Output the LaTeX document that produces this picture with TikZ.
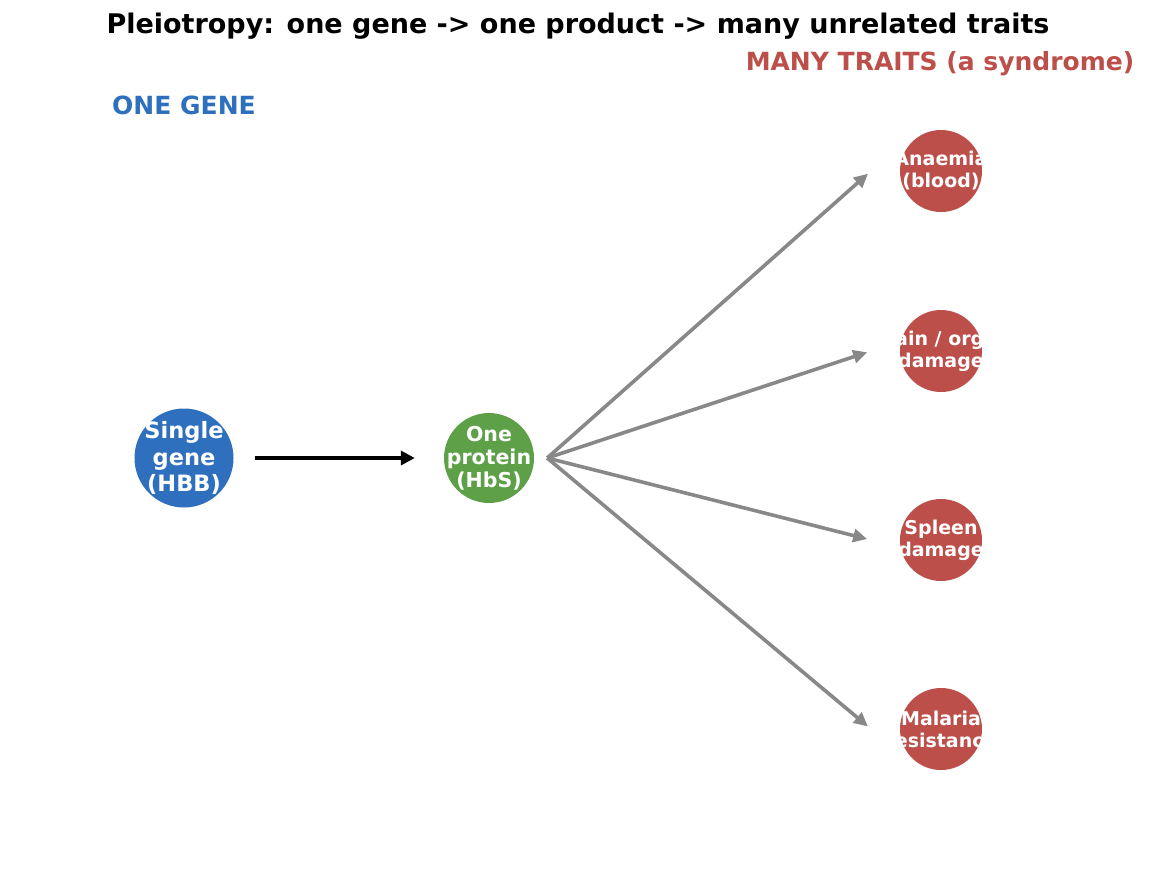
\documentclass[tikz,border=0pt]{standalone}
\usepackage{fontspec}
\setmainfont{DejaVu Sans}
\usepackage{xcolor}
\usepackage{tikz}
\usetikzlibrary{arrows.meta,positioning}
\definecolor{geneblue}{HTML}{2E70BE}
\definecolor{protgreen}{HTML}{5DA047}
\definecolor{traitred}{HTML}{BD4F4A}
\definecolor{fangray}{HTML}{888888}
\tikzset{
    gene/.style={circle, fill=geneblue, minimum size=99pt, inner sep=0pt},
    protein/.style={circle, fill=protgreen, minimum size=90pt, inner sep=0pt},
    trait/.style={circle, fill=traitred, minimum size=82pt, inner sep=0pt},
    genetext/.style={text=white, align=center, inner sep=0pt,
    font=\bfseries\fontsize{22.5}{26.5}\selectfont},
    proteintext/.style={text=white, align=center, inner sep=0pt,
    font=\bfseries\fontsize{20.5}{23}\selectfont},
    traittext/.style={text=white, align=center, inner sep=0pt,
    font=\bfseries\fontsize{19}{22}\selectfont},
    heading/.style={font=\bfseries\fontsize{25}{30}\selectfont},
    mainarrow/.style={line width=4.3pt, -{Triangle[length=14pt, width=14pt]}},
    fanarrow/.style={line width=3.6pt, draw=fangray,
    -{Triangle[length=14pt, width=13pt]}, shorten >=4pt},
}

\begin{document}
\begin{tikzpicture}[x=1pt, y=-1pt]
            \useasboundingbox (0,0) rectangle (1158,884);
            % --- title and column headings ---
            \node[font=\bfseries\fontsize{27}{32}\selectfont] (title) at (578,26)
                {Pleiotropy: one gene -> one product -> many unrelated traits};
            \node[heading, text=geneblue] (genehead) at (184,105) {ONE GENE};
            \node[heading, text=traitred] (traithead) at (940,64) {MANY TRAITS (a syndrome)};
            % --- gene and product ---
            \node[gene, label={[genetext]center:{Single\\gene\\(HBB)}}] (hbb) at (184,458) {};
            \node[protein, label={[proteintext]center:{One\\protein\\(HbS)}}] (hbs) at (489,458) {};
            % --- traits ---
            \node[trait, label={[traittext]center:{Anaemia\\(blood)}}] (t1) at (941,171) {};
            \node[trait, label={[traittext]center:{Brain / organ\\damage}}] (t2) at (941,351) {};
            \node[trait, label={[traittext]center:{Spleen\\damage}}] (t3) at (941,540) {};
            \node[trait, label={[traittext]center:{Malaria\\resistance}}] (t4) at (941,729) {};
            % --- connectors ---
            \draw[mainarrow, shorten <=21pt, shorten >=29pt] (hbb) -- (hbs);
            \coordinate (fan) at ([xshift=13pt]hbs.east);
            \foreach \t in {t1,t2,t3,t4}
                \draw[fanarrow] (fan) -- ([xshift=-70pt]\t.center);
        \end{tikzpicture}
\end{document}
